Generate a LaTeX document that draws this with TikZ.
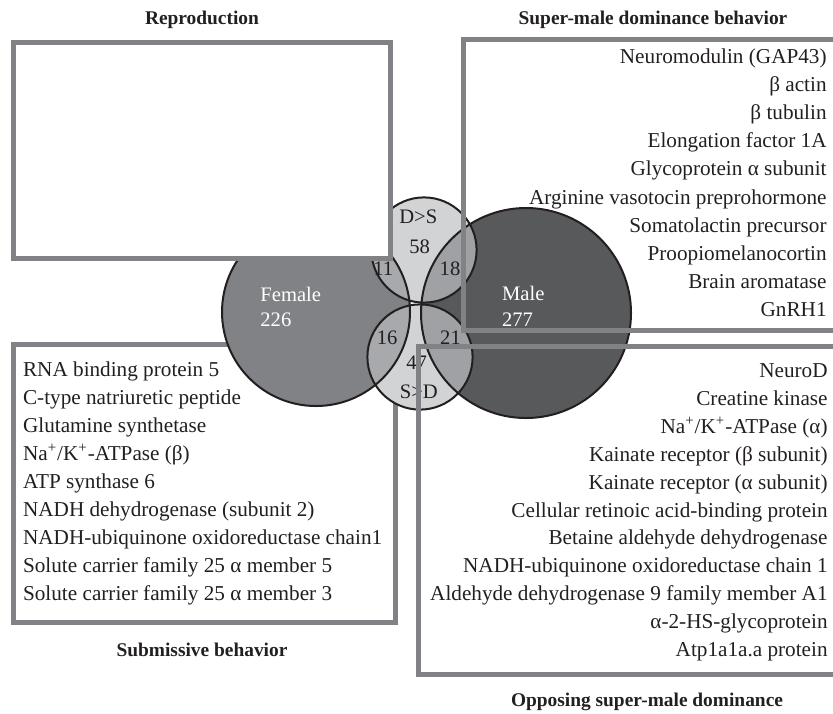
\documentclass[tikz,border=0pt]{standalone}
\usepackage{fontspec}
\setmainfont{Liberation Serif}
\definecolor{ink}{HTML}{231F20}
\definecolor{boxgray}{HTML}{808285}
\definecolor{femgray}{HTML}{808285}
\definecolor{malegray}{HTML}{58595B}
\definecolor{ltgray}{HTML}{D1D3D4}
\definecolor{midgray}{HTML}{A7A9AC}
\definecolor{midgraydark}{HTML}{9FA1A4}

\begin{document}
\begin{tikzpicture}[x=0.5pt,y=-0.5pt,
    box/.style={draw=boxgray,line width=2.5pt},
    ring/.style={draw=ink,line width=1pt},
    item/.style={font=\fontsize{10.6}{14}\selectfont,inner sep=0pt,text=ink},
    head/.style={font=\fontsize{9.7}{12}\selectfont\bfseries,inner sep=0pt,text=ink},
    num/.style={font=\fontsize{10.3}{12}\selectfont,inner sep=0pt,text=ink,anchor=base}]
  \useasboundingbox (0,0) rectangle (833,713);
  \clip (0,0) rectangle (833,713);

  % circle centres
  \coordinate (fem) at (316,312);
  \coordinate (mal) at (526,313);
  \coordinate (ds) at (424,250);
  \coordinate (sd) at (420,357);

  % box under the circles
  \draw[box,fill=white] (13.5,344) rectangle (395.5,622.5);

  % venn
  \fill[femgray] (fem) circle[radius=47pt];
  \fill[malegray] (mal) circle[radius=52.5pt];
  \fill[ltgray] (ds) circle[radius=26.3pt] (sd) circle[radius=26.3pt];
  \begin{scope}
    \clip (fem) circle[radius=47pt];
    \fill[midgray] (ds) circle[radius=26.3pt] (sd) circle[radius=26.3pt];
  \end{scope}
  \begin{scope}
    \clip (mal) circle[radius=52.5pt];
    \fill[midgraydark] (ds) circle[radius=26.3pt] (sd) circle[radius=26.3pt];
  \end{scope}
  \draw[ring] (fem) circle[radius=47pt];
  \draw[ring] (mal) circle[radius=52.5pt];
  \draw[ring] (ds) circle[radius=26.3pt];
  \draw[ring] (sd) circle[radius=26.3pt];

  \node[num,text=white,anchor=base west] (femname) at (260,301.7) {Female};
  \node[num,text=white,anchor=base west] (femcount) at (260,326.7) {226};
  \node[num,text=white,anchor=base west] (malename) at (501.7,300.7) {Male};
  \node[num,text=white,anchor=base west] (malecount) at (501.7,326.7) {277};
  \node[num] (dsname) at (418.3,223.3) {D>S};
  \node[num] (dscount) at (419.7,253.3) {58};
  \node[num] (femds) at (383.3,275) {11};
  \node[num] (maleds) at (450,275) {18};
  \node[num] (femsd) at (387.2,344.3) {16};
  \node[num] (malesd) at (450.5,344.3) {21};
  \node[num] (sdcount) at (416.7,369) {47};
  \node[num] (sdname) at (418.8,398.3) {S>D};

  % boxes over the circles
  \draw[box,fill=white] (13.5,42.5) rectangle (390.5,258);
  \draw[box] (463,39.5) rectangle (850,330.5);
  \draw[box] (418,346.5) rectangle (850,674);

  % headings
  \node[head,anchor=base] (reprotitle) at (202,24) {Reproduction};
  \node[head,anchor=base] (domtitle) at (653,24) {Super-male dominance behavior};
  \node[head,anchor=base] (subtitle) at (202,656) {Submissive behavior};
  \node[head,anchor=base] (opptitle) at (647,706.7) {Opposing super-male dominance};

  % gene lists
  \foreach \t [count=\i] in {Neuromodulin (GAP43), β actin, β tubulin,
      Elongation factor 1A, Glycoprotein α subunit,
      Arginine vasotocin preprohormone, Somatolactin precursor,
      Proopiomelanocortin, Brain aromatase, GnRH1}
    \node[item,anchor=base east] (dom\i) at (827,{63.5+28.1*(\i-1)}) {\t};

  \foreach \t [count=\i] in {RNA binding protein 5, C-type natriuretic peptide,
      Glutamine synthetase, Na\textsuperscript{+}/K\textsuperscript{+}-ATPase (β),
      ATP synthase 6, NADH dehydrogenase (subunit 2),
      NADH-ubiquinone oxidoreductase chain1,
      Solute carrier family 25 α member 5, Solute carrier family 25 α member 3}
    \node[item,anchor=base west] (sub\i) at (22.7,{376.5+28*(\i-1)}) {\t};

  \foreach \t [count=\i] in {NeuroD, Creatine kinase,
      Na\textsuperscript{+}/K\textsuperscript{+}-ATPase (α),
      Kainate receptor (β subunit), Kainate receptor (α subunit),
      Cellular retinoic acid-binding protein, Betaine aldehyde dehydrogenase,
      NADH-ubiquinone oxidoreductase chain 1,
      Aldehyde dehydrogenase 9 family member A1,
      α-2-HS-glycoprotein, Atp1a1a.a protein}
    \node[item,anchor=base east] (opp\i) at (828,{377.5+27.9*(\i-1)}) {\t};
\end{tikzpicture}
\end{document}
